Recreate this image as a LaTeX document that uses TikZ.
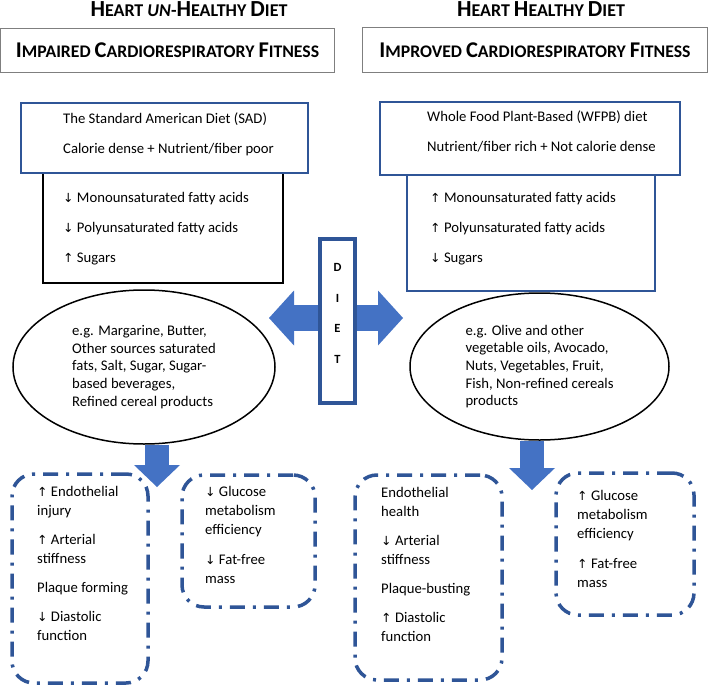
\documentclass[tikz,border=0pt]{standalone}
\usepackage{fontspec}
\setmainfont{Carlito}
\newfontfamily\arrowfont{DejaVu Sans}
\usetikzlibrary{arrows.meta,shapes.geometric,positioning}
\definecolor{deepblue}{HTML}{2F5597}
\definecolor{midblue}{HTML}{4472C4}
\definecolor{framegray}{HTML}{7F7F7F}
\newcommand{\upar}{{\arrowfont\fontsize{12.5}{12.5}\selectfont ↑}}
\newcommand{\dnar}{{\arrowfont\fontsize{12.5}{12.5}\selectfont ↓}}
\newcommand{\hsc}[2]{{\fontsize{23}{23}\selectfont #1}{\fontsize{18}{18}\selectfont #2}}
\newcommand{\fsc}[2]{{\fontsize{22.5}{22.5}\selectfont #1}{\fontsize{17.7}{17.7}\selectfont #2}}
\tikzset{
  heading/.style={inner sep=0pt, font=\bfseries\fontsize{18}{18}\selectfont},
  fitbox/.style={draw=framegray, line width=1pt, inner sep=0pt, font=\bfseries\fontsize{17.7}{17.7}\selectfont},
  bluebox/.style={draw=deepblue, line width=1.5pt},
  blackbox/.style={draw=black, line width=1.5pt},
  listtext/.style={anchor=base west, align=left, inner sep=0pt, font=\fontsize{14.7}{30}\selectfont},
  food/.style={draw, ellipse, line width=1.5pt, fill=white, inner sep=0pt, align=left, font=\fontsize{14.7}{17.7}\selectfont},
  dietbox/.style={draw=deepblue, line width=3.5pt},
  dietletters/.style={align=center, inner sep=0pt, font=\bfseries\fontsize{12.5}{30.5}\selectfont},
  fatarrow/.style={midblue, line width=26pt, -{Triangle[width=55pt,length=25pt,line width=0pt]}},
  downarrow/.style={midblue, line width=24pt, -{Triangle[width=46pt,length=22pt,line width=0pt]}},
  dashbox/.style={draw=deepblue, line width=3.5pt, rounded corners=22pt, dash pattern=on 15pt off 8pt on 3pt off 8pt},
  effect/.style={anchor=base west, align=left, inner sep=0pt, font=\fontsize{14.7}{19}\selectfont}
}
\begin{document}
\begin{tikzpicture}[x=1pt,y=-1pt]
\useasboundingbox (0,0) rectangle (709,685);

% headings
\node[heading] (headL) at (189,9) {\hsc{H}{EART} \textit{UN}-\hsc{H}{EALTHY} \hsc{D}{IET}};
\node[heading] (headR) at (541,9) {\hsc{H}{EART} \hsc{H}{EALTHY} \hsc{D}{IET}};
\node[fitbox, minimum width=334, minimum height=43] (fitL) at (167.5,50.5) {\fsc{I}{MPAIRED} \fsc{C}{ARDIORESPIRATORY} \fsc{F}{ITNESS}};
\node[fitbox, minimum width=345, minimum height=44] (fitR) at (535,50) {\fsc{I}{MPROVED} \fsc{C}{ARDIORESPIRATORY} \fsc{F}{ITNESS}};

% diets (text nodes sit on the baseline of their last line)
\node[blackbox, minimum width=240, minimum height=110] (sadFat) at (163,228) {};
\node[bluebox, minimum width=287, minimum height=70] (sad) at (164.5,138) {};
\node[bluebox, minimum width=248, minimum height=116] (wfpbFat) at (531,233) {};
\node[bluebox, minimum width=300, minimum height=73] (wfpb) at (530,138.5) {};
\node[listtext] (sadTxt) at (63,153) {The Standard American Diet (SAD)\\Calorie dense + Nutrient/fiber poor};
\node[listtext] (sadList) at (63,262) {\dnar{} Monounsaturated fatty acids\\\dnar{} Polyunsaturated fatty acids\\\upar{} Sugars};
\node[listtext] (wfpbTxt) at (427,151) {Whole Food Plant-Based (WFPB) diet\\Nutrient/fiber rich + Not calorie dense};
\node[listtext] (wfpbList) at (430,262) {\upar{} Monounsaturated fatty acids\\\upar{} Polyunsaturated fatty acids\\\dnar{} Sugars};

% foods
\node[food, minimum width=262, minimum height=154] (lFood) at (144,367) {e.g. Margarine, Butter,\\Other sources saturated\\fats, Salt, Sugar, Sugar-\\based beverages,\\Refined cereal products};
\node[food, minimum width=259, minimum height=147] (rFood) at (539.5,366.5) {e.g. Olive and other\\vegetable oils, Avocado,\\Nuts, Vegetables, Fruit,\\Fish, Non-refined cereals\\products};

% DIET
\node[dietbox, minimum width=35, minimum height=164] (diet) at (337.5,321) {};
\node[dietletters, anchor=base] (dietTxt) at (337.5,363) {D\\I\\E\\T};
\coordinate (lTip) at (269,318);
\coordinate (rTip) at (403,318);
\draw[fatarrow] (diet.west |- lTip) -- (lTip);
\draw[fatarrow] (diet.east |- rTip) -- (rTip);

% effects
\node[dashbox, minimum width=136, minimum height=209] (badVasc) at (80,578.5) {};
\node[dashbox, minimum width=133, minimum height=132] (badMetab) at (248.5,541) {};
\node[dashbox, minimum width=147, minimum height=205] (goodVasc) at (428.5,577.5) {};
\node[dashbox, minimum width=138, minimum height=142] (goodMetab) at (625,544) {};
\node[effect] (badVascTxt) at (37,640) {\upar{} Endothelial\\injury\\[10pt]\upar{} Arterial\\stiffness\\[10pt]Plaque forming\\[10pt]\dnar{} Diastolic\\function};
\node[effect] (badMetabTxt) at (205,583) {\dnar{} Glucose\\metabolism\\efficiency\\[11pt]\dnar{} Fat-free\\mass};
\node[effect] (goodVascTxt) at (381,641) {Endothelial\\health\\[10pt]\dnar{} Arterial\\stiffness\\[10pt]Plaque-busting\\[10pt]\upar{} Diastolic\\function};
\node[effect] (goodMetabTxt) at (577,587) {\upar{} Glucose\\metabolism\\efficiency\\[11pt]\upar{} Fat-free\\mass};

\coordinate (lDown) at (157,487);
\coordinate (rDown) at (532,490);
\draw[downarrow] (lFood.south -| lDown) -- (lDown);
\draw[downarrow] (rFood.south -| rDown) -- (rDown);
\end{tikzpicture}
\end{document}
